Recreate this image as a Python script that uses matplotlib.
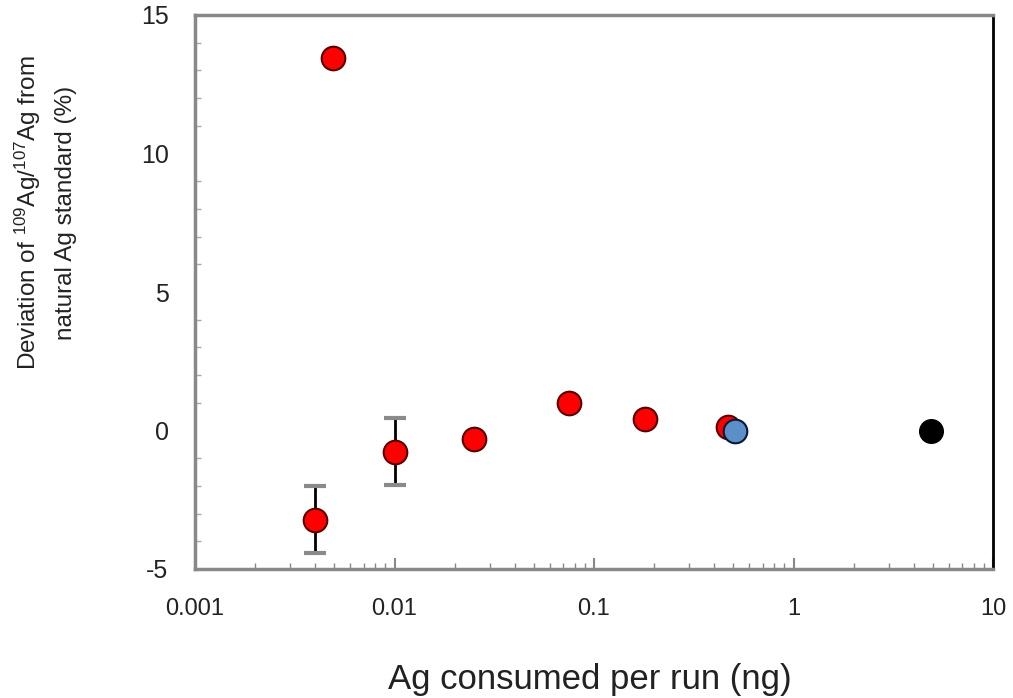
import numpy as np
import matplotlib
matplotlib.use("Agg")
import matplotlib.pyplot as plt
from matplotlib.ticker import LogLocator, MultipleLocator, FixedFormatter, FixedLocator

matplotlib.rcParams['font.family'] = 'Liberation Sans'
matplotlib.rcParams['mathtext.fontset'] = 'custom'
matplotlib.rcParams['mathtext.rm'] = 'Liberation Sans'
matplotlib.rcParams['axes.unicode_minus'] = False

# red samples (with/without error bars)
red_x = [0.0049, 0.0040, 0.010, 0.025, 0.075, 0.18, 0.47]
red_y = [13.45, -3.22, -0.76, -0.29, 0.98, 0.43, 0.14]
red_err = [0, 1.2, 1.2, 0, 0, 0, 0]
blue_x = [0.51]
blue_y = [0.0]
black_x = [4.9]
black_y = [0.0]

fig = plt.figure(figsize=(10.13, 6.98), dpi=100)
ax = fig.add_axes([195/1013, 1-569/698, (993-195)/1013, (569-15)/698])

# error bars first
ex = [x for x, e in zip(red_x, red_err) if e > 0]
ey = [y for y, e in zip(red_y, red_err) if e > 0]
ee = [e for e in red_err if e > 0]
eb = ax.errorbar(ex, ey, yerr=ee, fmt='none', ecolor='black', elinewidth=2,
                 capsize=8, capthick=3, zorder=2)
for cap in eb[1]:
    cap.set_markeredgecolor('#8a8a8a')
    cap.set_markerfacecolor('#8a8a8a')

ms = 17
ax.plot(red_x, red_y, 'o', ms=ms, mfc='#ff0000', mec='#5a0000', mew=1.5, zorder=3)
ax.plot(blue_x, blue_y, 'o', ms=ms, mfc='#5b8fc9', mec='#0a1a33', mew=1.5, zorder=4)
ax.plot(black_x, black_y, 'o', ms=ms, mfc='black', mec='black', zorder=4)

ax.set_xscale('log')
ax.set_xlim(0.001, 10)
ax.set_ylim(-5, 15)

ax.xaxis.set_major_locator(FixedLocator([0.001, 0.01, 0.1, 1, 10]))
ax.xaxis.set_major_formatter(FixedFormatter(['0.001', '0.01', '0.1', '1', '10']))
ax.xaxis.set_minor_locator(LogLocator(base=10, subs=np.arange(2, 10)))
ax.xaxis.set_minor_formatter(plt.NullFormatter())
ax.yaxis.set_major_locator(MultipleLocator(5))
ax.yaxis.set_minor_locator(MultipleLocator(1))

ax.tick_params(axis='x', which='major', direction='in', length=8, width=1.5,
               color='#888888', labelsize=17, pad=21, labelcolor='#222222')
ax.tick_params(axis='x', which='minor', direction='in', length=4, width=1,
               color='#888888')
ax.tick_params(axis='y', which='major', direction='in', length=0,
               labelsize=18, pad=19, labelcolor='#222222')
ax.tick_params(axis='y', which='minor', direction='in', length=4, width=1,
               color='#aaaaaa')

for side in ['left', 'bottom', 'top']:
    ax.spines[side].set_color('#888888')
    ax.spines[side].set_linewidth(2.5)
ax.spines['right'].set_color('black')
ax.spines['right'].set_linewidth(2)

fig.text(590/1013, 1-679/698, 'Ag consumed per run (ng)', fontsize=25,
         ha='center', va='center', color='#222222')
fig.text(45/1013, 1-213/698,
         'Deviation of $\\mathregular{^{109}}$Ag/$\\mathregular{^{107}}$Ag from\nnatural Ag standard (%)',
         fontsize=17.5, rotation=90, ha='center', va='center',
         multialignment='center', linespacing=1.75, color='#222222')

plt.savefig('out.png', dpi=100)
